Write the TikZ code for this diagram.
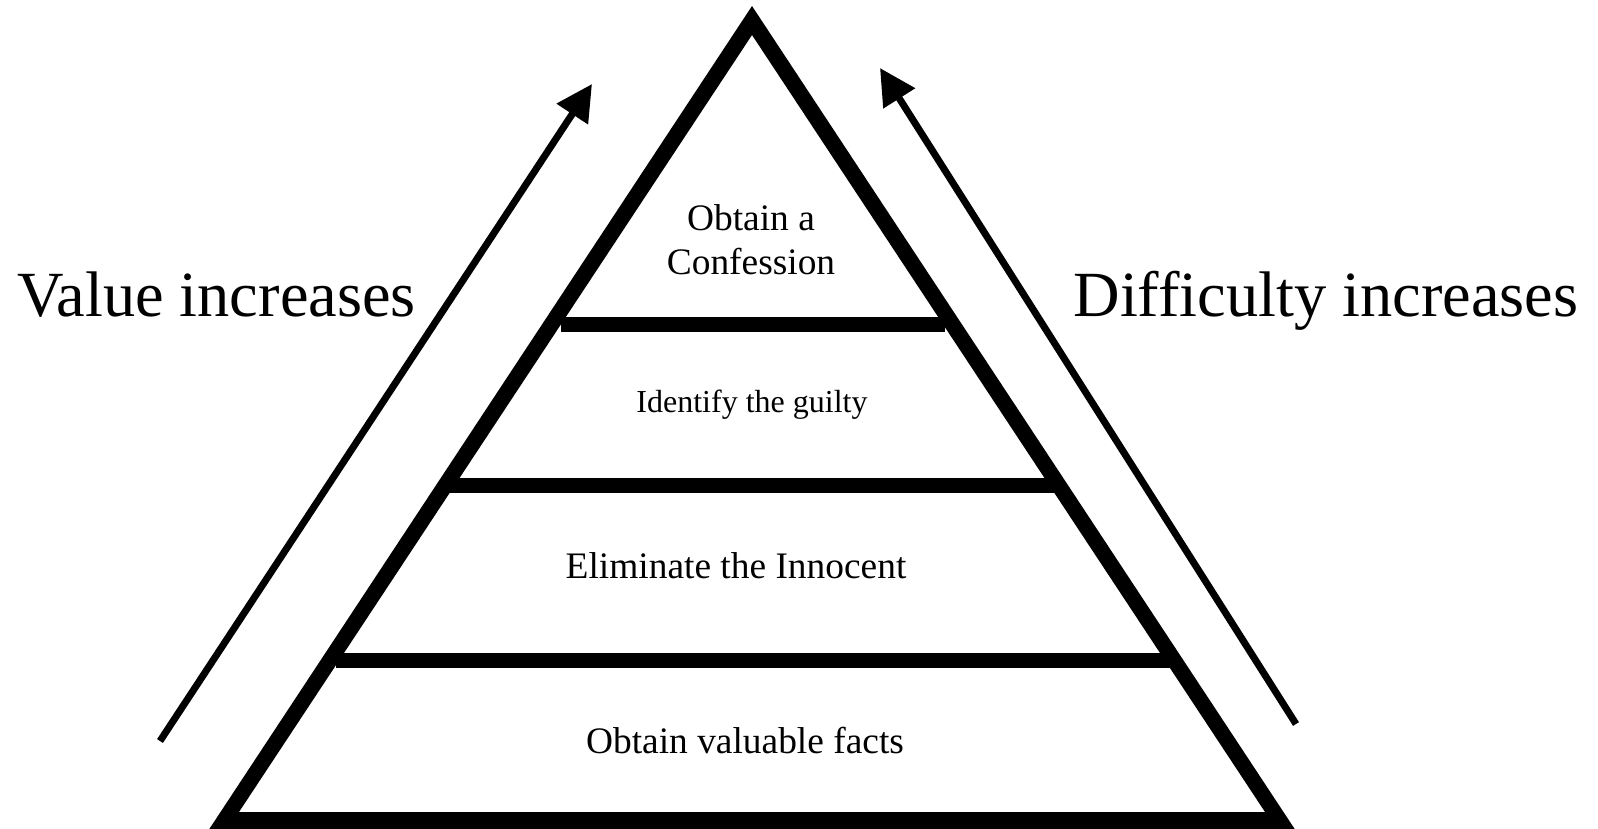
\documentclass[tikz,border=0pt]{standalone}
\usepackage{fontspec}
\setmainfont{Liberation Serif}
\usetikzlibrary{arrows.meta}
\begin{document}
\begin{tikzpicture}[x=1pt,y=-1pt,
  bar/.style={line width=15pt},
  arr/.style={line width=7pt,-{Triangle[length=36pt,width=36pt]}},
  lbl/.style={font=\fontsize{37.4}{44}\selectfont,align=center,inner sep=0pt},
  big/.style={font=\fontsize{64.4}{72}\selectfont,inner sep=0pt,anchor=base}]
\useasboundingbox (0,0) rectangle (1598,828);
\begin{scope}
\clip (0,0) rectangle (1598,828);
\fill[black,even odd rule] (752,6) -- (1296,831) -- (208,831) -- cycle
  (752,35) -- (1265,812) -- (239,812) -- cycle;
\end{scope}
\coordinate (b1l) at (561,324.5); \coordinate (b1r) at (945,324.5);
\coordinate (b2l) at (447,485.5); \coordinate (b2r) at (1057,485.5);
\coordinate (b3l) at (336,660); \coordinate (b3r) at (1170,660);
\draw[bar] (b1l) -- (b1r);
\draw[bar] (b2l) -- (b2r);
\draw[bar] (b3l) -- (b3r);
\coordinate (la) at (160,741); \coordinate (lb) at (592,84);
\coordinate (ra) at (1296,724); \coordinate (rb) at (880,68);
\draw[arr] (la) -- (lb);
\draw[arr] (ra) -- (rb);
\node[lbl] (t1) at (751,240) {Obtain a\\Confession};
\node[lbl,font=\fontsize{32}{38}\selectfont] (t2) at (752,405) {Identify the guilty};
\node[lbl] (t3) at (736,566) {Eliminate the Innocent};
\node[lbl] (t4) at (745,741) {Obtain valuable facts};
\node[big] (vl) at (216.5,316) {Value increases};
\node[big] (dl) at (1326,316) {Difficulty increases};
\end{tikzpicture}
\end{document}
